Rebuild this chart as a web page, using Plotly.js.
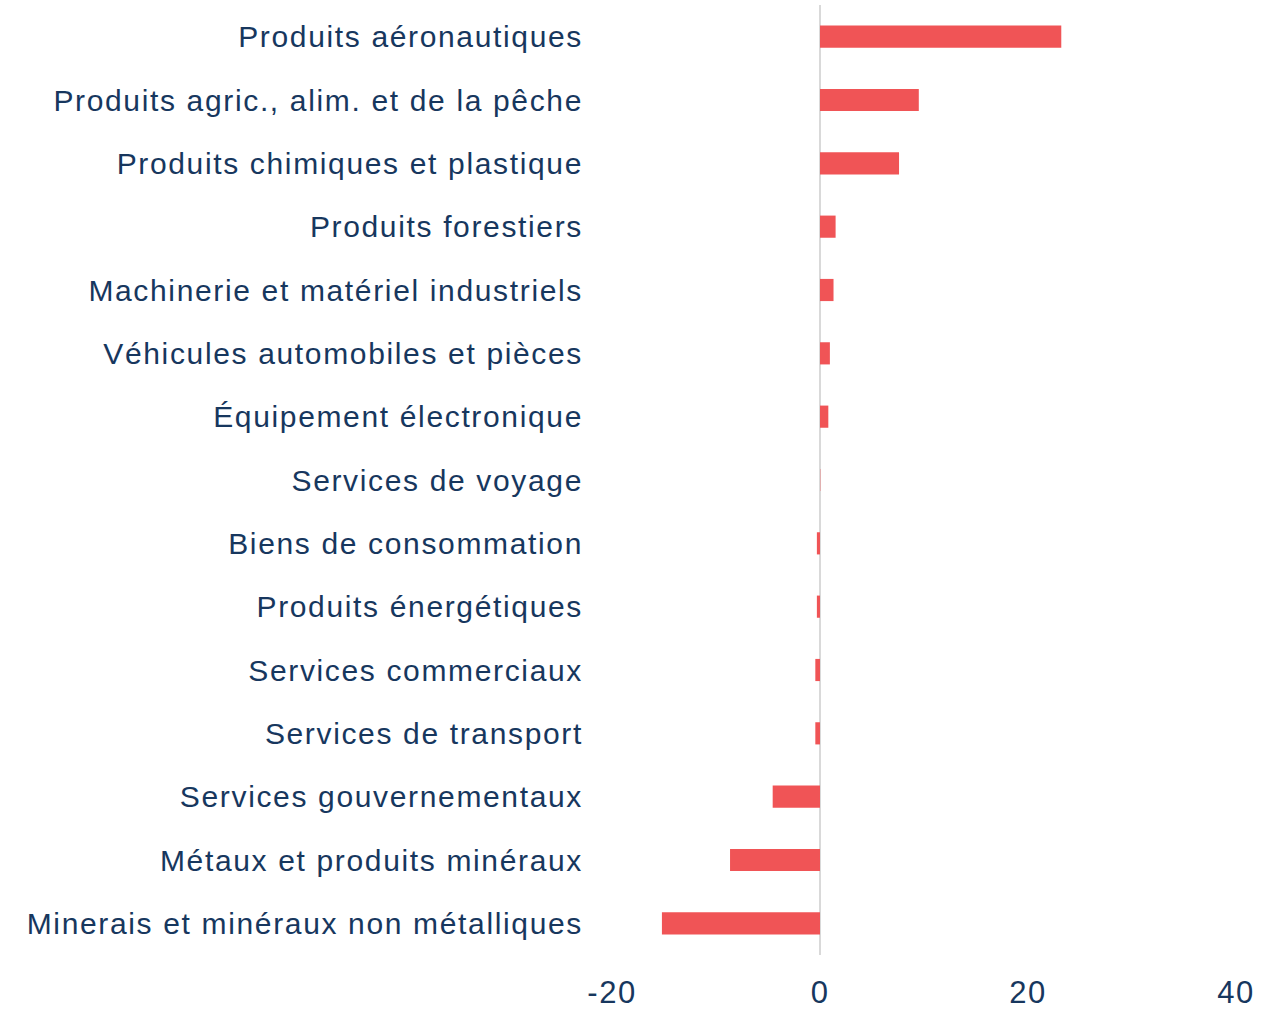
<!DOCTYPE html>
<html>
<head>
<meta charset="utf-8">
<script src="https://cdn.plot.ly/plotly-3.0.1.min.js"></script>
<style>
  html, body { margin: 0; padding: 0; background: #fff; }
  #chart { width: 1266px; height: 1014px; }
  /* the original labels are drawn a bit wider than plain Arial */
  #chart .ytick text { letter-spacing: 1.65px; }
  #chart .xtick text { letter-spacing: 1.5px; }
</style>
</head>
<body>
<div id="chart"></div>
<script>
// categories listed bottom to top (plotly draws first category at the bottom)
const categories = [
    'Minerais et minéraux non métalliques',
    'Métaux et produits minéraux',
    'Services gouvernementaux',
    'Services de transport',
    'Services commerciaux',
    'Produits énergétiques',
    'Biens de consommation',
    'Services de voyage',
    'Équipement électronique',
    'Véhicules automobiles et pièces',
    'Machinerie et matériel industriels',
    'Produits forestiers',
    'Produits chimiques et plastique',
    'Produits agric., alim. et de la pêche',
    'Produits aéronautiques'
];

const values = [-15.2, -8.65, -4.55, -0.45, -0.45, -0.3, -0.3, 0.03, 0.8, 0.95, 1.3, 1.5, 7.6, 9.5, 23.2];

const tickVals = [-20, 0, 20, 40];

const textColor = '#17375E';

const data = [{
    type: 'bar',
    orientation: 'h',
    x: values,
    y: categories,
    width: 0.35,
    marker: { color: '#F05456' },
    hoverinfo: 'x+y'
}];

const layout = {
    width: 1266,
    height: 1014,
    margin: { l: 612, r: 30, t: 5, b: 59 },
    paper_bgcolor: '#ffffff',
    plot_bgcolor: '#ffffff',
    showlegend: false,
    font: { family: 'Liberation Sans, Arial, sans-serif', color: textColor },
    xaxis: {
        range: [-20, 40],
        tickvals: tickVals,
        ticktext: tickVals.map(String),
        showgrid: false,
        zeroline: true,
        zerolinecolor: '#D9D9D9',
        zerolinewidth: 2,
        showline: false,
        ticks: '',
        tickfont: { size: 31, color: textColor },
        ticklabelstandoff: 16
    },
    yaxis: {
        type: 'category',
        showgrid: false,
        showline: false,
        zeroline: false,
        ticks: '',
        tickfont: { size: 30, color: textColor },
        ticklabelstandoff: 28,
        automargin: false
    }
};

Plotly.newPlot('chart', data, layout, { displayModeBar: false, staticPlot: true });
</script>
</body>
</html>
